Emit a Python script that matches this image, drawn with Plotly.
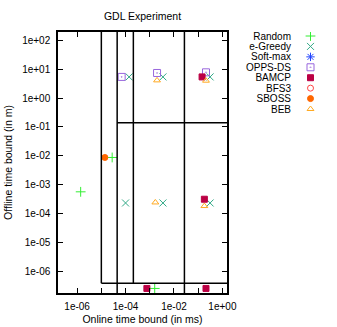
import plotly.graph_objects as go

# ---- data (online time bound in ms, offline time bound in m) ----
random_x = [1.4e-6, 2.8e-5, 1.6e-3]
random_y = [5.6e-4, 8.7e-3, 2.5e-7]

egreedy_x = [1.4e-4, 3.5e-3, 0.31, 1.0e-4, 3.5e-3, 0.31]
egreedy_y = [5.4, 5.4, 5.4, 2.3e-4, 2.3e-4, 2.3e-4]

softmax_x = []
softmax_y = []

opps_x = [6.9e-5, 2.0e-3, 0.21]
opps_y = [5.4, 7.4, 7.8]

bamcp_x = [0.145, 0.18, 7.6e-4, 0.21]
bamcp_y = [5.4, 3.1e-4, 2.5e-7, 2.5e-7]

bfs3_x = []
bfs3_y = []

sboss_x = [1.4e-5]
sboss_y = [8.7e-3]

beb_x = [2.0e-3, 0.21, 1.7e-3, 0.18]
beb_y = [4.1, 4.0, 2.4e-4, 1.8e-4]

# tick labels
x_tickvals = [1e-6, 1e-5, 1e-4, 1e-3, 1e-2, 1e-1, 1e0]
x_ticktext = ["1e-06", "", "1e-04", "", "1e-02", "", "1e+00"]
y_tickvals = [1e-6, 1e-5, 1e-4, 1e-3, 1e-2, 1e-1, 1e0, 1e1, 1e2]
y_ticktext = ["1e-06", "1e-05", "1e-04", "1e-03", "1e-02", "1e-01", "1e+00", "1e+01", "1e+02"]

# region boundaries (data coords)
bx = [1e-5, 4.5e-5, 2.1e-4, 0.027]
by = [3.8e-7, 0.14]

series = [
    ("Random", random_x, random_y, "cross-thin-open", "#33ee33", 7),
    ("e-Greedy", egreedy_x, egreedy_y, "x-thin-open", "#33aa88", 7),
    ("Soft-max", softmax_x, softmax_y, "asterisk-open", "#2244ff", 7),
    ("OPPS-DS", opps_x, opps_y, "square-open-dot", "#9966dd", 7),
    ("BAMCP", bamcp_x, bamcp_y, "square", "#bb0044", 6),
    ("BFS3", bfs3_x, bfs3_y, "circle-open", "#ff4444", 6),
    ("SBOSS", sboss_x, sboss_y, "circle", "#ff6600", 6),
    ("BEB", beb_x, beb_y, "triangle-up-open", "#ffaa22", 6),
]
names = [s[0] for s in series]

fig = go.Figure()
for name, xs, ys, sym, col, sz in series:
    fig.add_trace(go.Scatter(
        x=xs, y=ys, mode="markers", name=name, showlegend=False,
        marker=dict(symbol=sym, color=col, size=sz,
                    line=dict(color=col, width=1)),
        xaxis="x", yaxis="y",
    ))
# gnuplot-style key: names right-aligned, sample marker to the right
for name, xs, ys, sym, col, sz in series:
    fig.add_trace(go.Scatter(
        x=["key"], y=[name], mode="markers", name=name, showlegend=False,
        hoverinfo="skip",
        marker=dict(symbol=sym, color=col, size=sz,
                    line=dict(color=col, width=1)),
        xaxis="x2", yaxis="y2",
    ))

W, H = 337, 327
ML, MR, MT, MB = 58, 10, 32, 34
PW = W - ML - MR
PH = H - MT - MB
plot_right = 227

XMAX = 10 ** 0.19
YMAX = 10 ** 2.29
YMIN = 10 ** -6.76
line = dict(color="black", width=1.5)
shapes = [
    dict(type="line", x0=bx[0], x1=bx[0], y0=by[0], y1=YMAX),
    dict(type="line", x0=bx[0], x1=XMAX, y0=by[0], y1=by[0]),
    dict(type="line", x0=bx[1], x1=bx[1], y0=YMIN, y1=YMAX),
    dict(type="line", x0=bx[2], x1=bx[2], y0=by[0], y1=YMAX),
    dict(type="line", x0=bx[3], x1=bx[3], y0=YMIN, y1=YMAX),
    dict(type="line", x0=bx[1], x1=XMAX, y0=by[1], y1=by[1]),
]
for s in shapes:
    s.update(xref="x", yref="y", line=line, layer="above")

key_top, key_bot = 32, 114.2
fig.update_layout(
    width=W, height=H,
    margin=dict(l=ML, r=MR, t=MT, b=MB, autoexpand=False),
    paper_bgcolor="white", plot_bgcolor="white",
    font=dict(family="Liberation Sans, Arial, sans-serif", size=10, color="black"),
    title=dict(text="GDL Experiment", x=142.5 / W, xanchor="center",
               y=1 - 16 / H, yanchor="middle", font=dict(size=10.5)),
    showlegend=False,
    shapes=shapes,
    xaxis=dict(
        domain=[0, (plot_right - ML) / PW],
        type="log", range=[-6.79, 0.19], automargin=False,
        tickvals=x_tickvals, ticktext=x_ticktext,
        ticks="inside", ticklen=5, tickcolor="black", tickwidth=1,
        showline=True, linecolor="black", linewidth=1.5, mirror="ticks",
        showgrid=False, zeroline=False, ticklabelstandoff=3,
        title=dict(text="Online time bound (in ms)", standoff=5, font=dict(size=10.5)),
    ),
    yaxis=dict(
        type="log", range=[-6.76, 2.29], automargin=False,
        tickvals=y_tickvals, ticktext=y_ticktext,
        ticks="inside", ticklen=5, tickcolor="black", tickwidth=1,
        showline=True, linecolor="black", linewidth=1.5, mirror="ticks",
        showgrid=False, zeroline=False, ticklabelstandoff=4,
        title=dict(text="Offline time bound (in m)", standoff=7, font=dict(size=10.5)),
    ),
    xaxis2=dict(
        domain=[(294 - ML) / PW, 1.0], anchor="y2", type="category",
        showline=False, showgrid=False, zeroline=False, showticklabels=False,
        ticks="", fixedrange=True,
    ),
    yaxis2=dict(
        domain=[(H - MB - key_bot) / PH, (H - MB - key_top) / PH], anchor="x2",
        type="category", categoryorder="array", categoryarray=names,
        tickmode="array", tickvals=names, ticktext=names,
        range=[7.4986, -0.3836], automargin=False,
        showline=False, showgrid=False, zeroline=False, ticks="",
        ticklabelstandoff=2, tickfont=dict(size=10), fixedrange=True,
    ),
)
fig.write_html(
    "out.html",
    config={"displayModeBar": False},
    post_script="document.body.style.margin='0';document.body.style.padding='0';",
)
